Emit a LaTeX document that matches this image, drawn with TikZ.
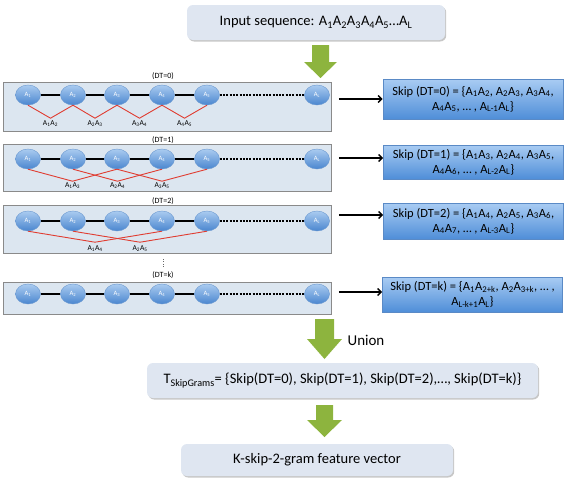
\documentclass[tikz,border=0pt]{standalone}
\usepackage{fontspec}
\setmainfont{Carlito}
\usetikzlibrary{shadows,calc,arrows.meta,shapes.geometric}
\definecolor{panelfill}{HTML}{DCE6F0}
\definecolor{panelborder}{HTML}{8A8A8A}
\definecolor{nodetop}{HTML}{AACBF0}
\definecolor{nodebot}{HTML}{4A86CF}
\definecolor{nodeborder}{HTML}{6A98D0}
\definecolor{skiptop}{HTML}{A9CCF3}
\definecolor{skipbot}{HTML}{4F8ED8}
\definecolor{skipborder}{HTML}{5A8AC6}
\definecolor{greenarrow}{HTML}{8DB43E}
\definecolor{softfill}{HTML}{DFE6F1}
\definecolor{redline}{HTML}{E03C31}
\newcommand\sbs[1]{\textsubscript{#1}}
\begin{document}
\begin{tikzpicture}[x=1pt,y=-1pt,
  panel/.style={draw=panelborder, fill=panelfill, line width=0.8pt, inner sep=0, anchor=north west, minimum width=328pt},
  seqnode/.style={ellipse, minimum width=25pt, minimum height=20pt, inner sep=0, top color=nodetop, bottom color=nodebot, draw=nodeborder, line width=0.4pt, text=white, font=\fontsize{6.5}{7}\selectfont},
  skipbox/.style={draw=skipborder, line width=0.6pt, top color=skiptop, bottom color=skipbot, align=center, font=\fontsize{12.5}{15}\selectfont, inner sep=0, minimum width=180pt},
  softbox/.style={rounded corners=6pt, fill=softfill, drop shadow={shadow xshift=1.2pt, shadow yshift=-1.5pt, fill=black, opacity=0.22}, font=\fontsize{14.5}{17}\selectfont, inner sep=0},
  seqedge/.style={line width=1.2pt, black},
  dashedge/.style={line width=1.2pt, dash pattern=on 2pt off 1.3pt},
  skipedge/.style={redline, line width=0.9pt},
  pairlabel/.style={font=\fontsize{7.5}{8}\selectfont, inner sep=0},
  dtlabel/.style={font=\fontsize{8}{9}\selectfont, inner sep=0},
  resarrow/.style={line width=1.4pt, -{Straight Barb[length=3.5pt,width=7pt]}, shorten <=7pt},
  greenblk/.style={fill=greenarrow}
]
\useasboundingbox (0,0) rectangle (567,482);

% top input box
\node[softbox, minimum width=258pt, minimum height=35pt] (input) at (316,22.5) {Input sequence: A\sbs{1}A\sbs{2}A\sbs{3}A\sbs{4}A\sbs{5}…A\sbs{L}};
\fill[greenblk] (312,45) -- (329,45) -- (329,62) -- (337,62) -- (320.5,78) -- (304,62) -- (312,62) -- cycle;

% panels
\node[panel, minimum height=49pt] (p1) at (3,82) {};
\node[panel, minimum height=47pt] (p2) at (3,144) {};
\node[panel, minimum height=48pt] (p3) at (3,205) {};
\node[panel, minimum height=32pt] (p4) at (3,282) {};

\node[dtlabel] (dt0) at (163,76) {(DT=0)};
\node[dtlabel] (dt1) at (163,140) {(DT=1)};
\node[dtlabel] (dt2) at (163,201) {(DT=2)};
\node[dtlabel] (dtk) at (163,275) {(DT=k)};
\coordinate (vd1) at (163,259);
\coordinate (vd2) at (163,268);
\draw[dotted, black!60] (vd1) -- (vd2);

% sequence nodes
\foreach \k/\yy in {1/95,2/159,3/221,4/294}{
  \foreach \i/\xx in {1/28,2/73,3/117,4/162,5/207}{
    \node[seqnode] (a\k\i) at (\xx,\yy) {A\sbs{\i}};
  }
  \node[seqnode] (a\k L) at (317,\yy) {A\sbs{L}};
  \draw[seqedge] (a\k1) -- (a\k2);
  \draw[seqedge] (a\k2) -- (a\k3);
  \draw[seqedge] (a\k3) -- (a\k4);
  \draw[seqedge] (a\k4) -- (a\k5);
  \draw[dashedge] (a\k5) -- (a\k L);
}

% DT=0 pairs
\foreach \i/\j in {1/2,2/3,3/4,4/5}{
  \coordinate (v0\i) at ($(a1\i.south)!0.5!(a1\j.south)+(0,13)$);
  \draw[skipedge] (a1\i.south) -- (v0\i) -- (a1\j.south);
  \node[pairlabel, below=2.5pt] (l0\i) at (v0\i) {A\sbs{\i}A\sbs{\j}};
}
% DT=1 pairs
\foreach \i/\j in {1/3,2/4,3/5}{
  \coordinate (v1\i) at ($(a2\i.south)!0.5!(a2\j.south)+(0,12)$);
  \draw[skipedge] (a2\i.south) -- (v1\i) -- (a2\j.south);
  \node[pairlabel, below=1.5pt] (l1\i) at (v1\i) {A\sbs{\i}A\sbs{\j}};
}
% DT=2 pairs
\foreach \i/\j in {1/4,2/5}{
  \coordinate (v2\i) at ($(a3\i.south)!0.5!(a3\j.south)+(0,11)$);
  \draw[skipedge] (a3\i.south) -- (v2\i) -- (a3\j.south);
  \node[pairlabel, below=3pt] (l2\i) at (v2\i) {A\sbs{\i}A\sbs{\j}};
}

% skip result boxes
\node[skipbox, minimum height=40pt] (s1) at (473,99) {Skip (DT=0) = \{A\sbs{1}A\sbs{2}, A\sbs{2}A\sbs{3}, A\sbs{3}A\sbs{4},\\A\sbs{4}A\sbs{5}, … , A\sbs{L-1}A\sbs{L}\}};
\node[skipbox, minimum height=34pt] (s2) at (473.5,162) {Skip (DT=1) = \{A\sbs{1}A\sbs{3}, A\sbs{2}A\sbs{4}, A\sbs{3}A\sbs{5},\\A\sbs{4}A\sbs{6}, … , A\sbs{L-2}A\sbs{L}\}};
\node[skipbox, minimum height=36pt] (s3) at (473.5,221) {Skip (DT=2) = \{A\sbs{1}A\sbs{4}, A\sbs{2}A\sbs{5}, A\sbs{3}A\sbs{6},\\A\sbs{4}A\sbs{7}, … , A\sbs{L-3}A\sbs{L}\}};
\node[skipbox, minimum height=35pt] (s4) at (472.5,294.5) {Skip (DT=k) = \{A\sbs{1}A\sbs{2+k}, A\sbs{2}A\sbs{3+k}, … ,\\A\sbs{L-k+1}A\sbs{L}\}};

\coordinate (y1) at (0,99);
\coordinate (y2) at (0,158);
\coordinate (y3) at (0,215);
\coordinate (y4) at (0,292);
\draw[resarrow] (p1.east |- y1) -- (s1.west |- y1);
\draw[resarrow] (p2.east |- y2) -- (s2.west |- y2);
\draw[resarrow] (p3.east |- y3) -- (s3.west |- y3);
\draw[resarrow] (p4.east |- y4) -- (s4.west |- y4);

% union
\fill[greenblk] (315,319) -- (334,319) -- (334,339) -- (342,339) -- (324.5,359) -- (307,339) -- (315,339) -- cycle;
\node[font=\fontsize{15}{18}\selectfont] (union) at (366,340) {Union};

\node[softbox, minimum width=391pt, minimum height=35pt] (tsg) at (342.5,380.5) {T\sbs{SkipGrams}= \{Skip(DT=0), Skip(DT=1), Skip(DT=2),…, Skip(DT=k)\}};
\fill[greenblk] (316,405) -- (333,405) -- (333,420) -- (342,420) -- (324.5,437) -- (307,420) -- (316,420) -- cycle;

\node[softbox, minimum width=272pt, minimum height=32pt] (feat) at (317,460) {K-skip-2-gram feature vector};
\end{tikzpicture}
\end{document}
